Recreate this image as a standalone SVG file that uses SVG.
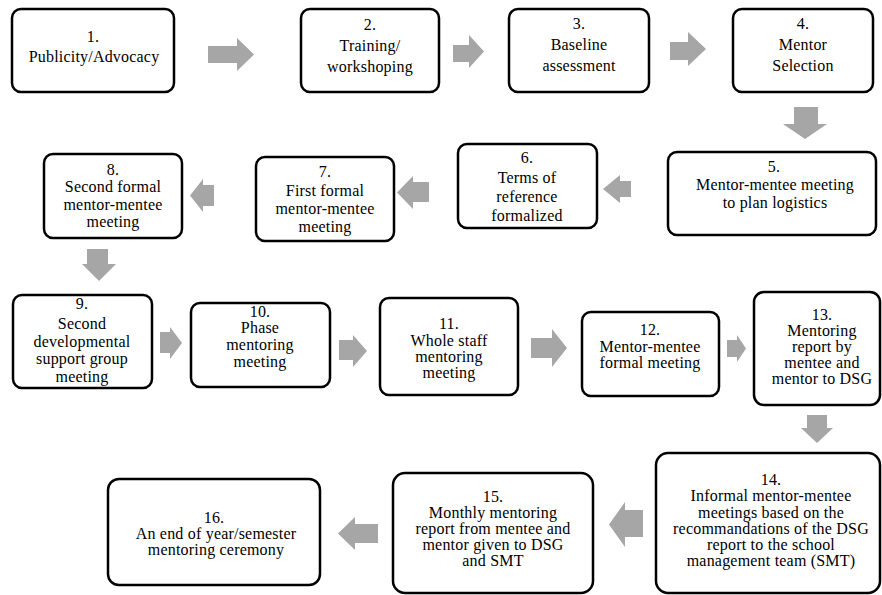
<svg xmlns="http://www.w3.org/2000/svg" width="882" height="595" viewBox="0 0 882 595">
<style>
.box{fill:#ffffff;stroke:#000000;stroke-width:2.5}
text{font-family:'Liberation Serif',Tinos,'Times New Roman',Times,'DejaVu Serif',serif;font-size:16px;letter-spacing:0.2px;fill:#000000;text-anchor:middle}
.arr{fill:#a6a6a6;stroke:none}
</style>
<rect width="882" height="595" fill="#ffffff"/>
<g id="connectors">
<polygon class="arr" points="208,46 237,46 237,38 254,54.5 237,71 237,63 208,63"/>
<polygon class="arr" points="453,45 469,45 469,35 484,51.5 469,68 469,62 453,62"/>
<polygon class="arr" points="670,42 688,42 688,32 706,49 688,66 688,60 670,60"/>
<polygon class="arr" points="794,107 818,107 818,124 827,124 805,139 783,124 794,124"/>
<polygon class="arr" points="631,181 620,181 620,175 603,189 620,203 620,197 631,197"/>
<polygon class="arr" points="429,182 413,182 413,176 397,192.5 413,209 413,202 429,202"/>
<polygon class="arr" points="214,185 203,185 203,179 190,195.5 203,212 203,206 214,206"/>
<polygon class="arr" points="87,249 108,249 108,264 116,264 99,281 82,264 87,264"/>
<polygon class="arr" points="160,332 170,332 170,327 182,343 170,359 170,353 160,353"/>
<polygon class="arr" points="339,340 353,340 353,335 367,351 353,367 353,360 339,360"/>
<polygon class="arr" points="531,338 552,338 552,329 567,348 552,367 552,358 531,358"/>
<polygon class="arr" points="727,340 737,340 737,335 746,348.5 737,362 737,357 727,357"/>
<polygon class="arr" points="807,415 827,415 827,428 833,428 817,443 801,428 807,428"/>
<polygon class="arr" points="643,510 625,510 625,502 609,524.5 625,547 625,537 643,537"/>
<polygon class="arr" points="378,524 355,524 355,517 338,533.5 355,550 355,543 378,543"/>
</g>
<g id="n1"><rect class="box" x="12" y="9" width="162" height="83" rx="9"/>
<text x="93" y="42">1.</text><text x="94" y="62">Publicity/Advocacy</text></g>
<g id="n2"><rect class="box" x="301" y="9" width="138" height="83" rx="9"/>
<text x="370" y="30">2.</text><text x="370" y="51">Training/</text><text x="370" y="72">workshoping</text></g>
<g id="n3"><rect class="box" x="509" y="9" width="140" height="83" rx="9"/>
<text x="579" y="29">3.</text><text x="579" y="50">Baseline</text><text x="579" y="71">assessment</text></g>
<g id="n4"><rect class="box" x="733" y="9" width="140" height="83" rx="9"/>
<text x="803" y="29">4.</text><text x="803" y="50">Mentor</text><text x="803" y="71">Selection</text></g>
<g id="n5"><rect class="box" x="668" y="152" width="208" height="83" rx="9"/>
<text x="774" y="172">5.</text><text x="775" y="190">Mentor-mentee meeting</text><text x="775" y="208">to plan logistics</text></g>
<g id="n6"><rect class="box" x="458" y="144" width="139" height="84" rx="9"/>
<text x="527" y="163">6.</text><text x="527" y="183">Terms of</text><text x="527" y="202">reference</text><text x="527" y="221">formalized</text></g>
<g id="n7"><rect class="box" x="256" y="157" width="138" height="84" rx="9"/>
<text x="325" y="177">7.</text><text x="325" y="196">First formal</text><text x="325" y="214">mentor-mentee</text><text x="325" y="232">meeting</text></g>
<g id="n8"><rect class="box" x="44" y="154" width="138" height="84" rx="9"/>
<text x="113" y="175">8.</text><text x="113" y="192">Second formal</text><text x="113" y="210">mentor-mentee</text><text x="113" y="227">meeting</text></g>
<g id="n9"><rect class="box" x="13" y="295" width="139" height="93" rx="9"/>
<text x="82" y="309">9.</text><text x="82" y="329">Second</text><text x="82" y="347">developmental</text><text x="82" y="364">support group</text><text x="82" y="382">meeting</text></g>
<g id="n10"><rect class="box" x="191" y="303" width="139" height="84" rx="9"/>
<text x="260" y="317">10.</text><text x="260" y="333">Phase</text><text x="260" y="350">mentoring</text><text x="260" y="367">meeting</text></g>
<g id="n11"><rect class="box" x="380" y="298" width="138" height="97" rx="9"/>
<text x="449" y="329">11.</text><text x="449" y="346">Whole staff</text><text x="449" y="362">mentoring</text><text x="449" y="378">meeting</text></g>
<g id="n12"><rect class="box" x="582" y="312" width="137" height="84" rx="9"/>
<text x="650" y="335">12.</text><text x="650" y="352">Mentor-mentee</text><text x="650" y="368">formal meeting</text></g>
<g id="n13"><rect class="box" x="754" y="292" width="126" height="113" rx="10"/>
<text x="822" y="320">13.</text><text x="822" y="336">Mentoring</text><text x="822" y="352">report by</text><text x="822" y="368">mentee and</text><text x="822" y="384">mentor to DSG</text></g>
<g id="n14"><rect class="box" x="656" y="453" width="224" height="140" rx="12"/>
<text x="771" y="485">14.</text><text x="771" y="501">Informal mentor-mentee</text><text x="771" y="518">meetings based on the</text><text x="771" y="534">recommandations of the DSG</text><text x="771" y="550">report to the school</text><text x="771" y="566">management team (SMT)</text></g>
<g id="n15"><rect class="box" x="393" y="473" width="200" height="120" rx="12"/>
<text x="493" y="502">15.</text><text x="493" y="518">Monthly mentoring</text><text x="493" y="534">report from mentee and</text><text x="493" y="550">mentor given to DSG</text><text x="493" y="566">and SMT</text></g>
<g id="n16"><rect class="box" x="108" y="479" width="212" height="106" rx="11"/>
<text x="214" y="523">16.</text><text x="216" y="539">An end of year/semester</text><text x="216" y="555">mentoring ceremony</text></g>
</svg>
